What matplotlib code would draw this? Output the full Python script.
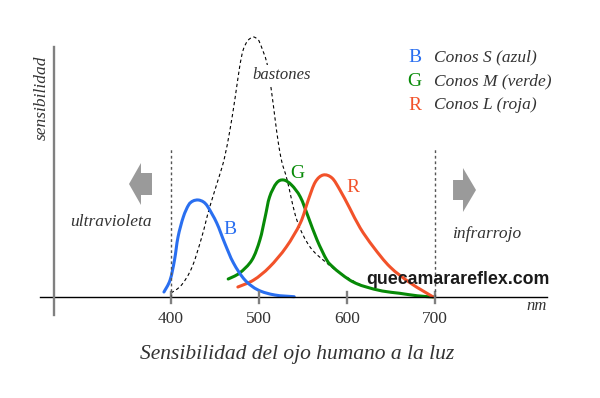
# espectro de sensibilidad del ojo humano: conos S, M, L y bastones
import numpy as np
import matplotlib.pyplot as plt
from matplotlib.patches import Polygon, PathPatch
from matplotlib.path import Path

# curva de los conos S (azul)
nm_b = [392, 399, 404, 408, 414, 420, 425, 431, 437, 442, 452, 461, 471, 484, 499, 518, 540]
s_b = [5, 17, 37, 60, 80, 92, 96, 97, 95, 90, 74, 54, 34, 17, 7, 2, 0.3]

# curva de los conos M (verde)
nm_g = [465, 478, 492, 501, 507, 512, 520, 528, 537, 547, 556, 566, 577, 584, 592, 603,
        612, 622, 640, 660, 680, 698]
s_g = [18, 24, 37, 57, 80, 100, 114, 117, 112, 100, 80, 57, 37, 30, 24, 17,
       13, 10, 6, 3.7, 1.2, 0]

# curva de los conos L (roja)
nm_r = [476, 494, 512, 531, 547, 556, 564, 573, 583, 592, 603, 615, 630, 649, 672, 698]
s_r = [10, 17, 30, 50, 74, 97, 115, 122, 119, 107, 89, 69, 50, 30, 14, 0]

# bastones (discontinua)
nm_rod = [400, 412, 424, 435, 444, 456, 461, 467, 473, 478, 482, 487, 493, 498, 501, 509,
          514, 518, 522, 526, 532, 543, 558, 577, 592, 622, 660, 698]
s_rod = [4, 12, 30, 60, 90, 124, 140, 167, 200, 230, 247, 256, 260, 258, 254, 234,
         207, 180, 154, 135, 117, 77, 50, 34, 24, 10, 3.5, 0]

ticks = [400, 500, 600, 700]

c_b = '#2a6ff0'
c_g = '#078a07'
c_r = '#f2522a'
gris = '#9a9a9a'
txt = '#333333'
serif = 'Liberation Serif'


def curva(x, y):
    # trazo suave (bezier) que pasa por los puntos leidos
    p = np.column_stack([x, y]).astype(float)
    verts = [p[0]]
    codes = [Path.MOVETO]
    for i in range(len(p) - 1):
        p0 = p[max(i - 1, 0)]
        p3 = p[min(i + 2, len(p) - 1)]
        c1 = p[i] + (p[i + 1] - p0) / 6
        c2 = p[i + 1] - (p3 - p[i]) / 6
        verts += [c1, c2, p[i + 1]]
        codes += [Path.CURVE4] * 3
    return Path(verts, codes)


fig = plt.figure(figsize=(6, 3.98), dpi=100)
ax = fig.add_axes([0, 0, 1, 1])
ax.set_xlim(205.7, 887.5)
ax.set_ylim(-101, 297)
ax.axis('off')

# ejes
ax.plot([251, 827], [0, 0], color='black', lw=1)
ax.plot([267, 267], [-18, 250], color='#808080', lw=1.7)
for t in ticks:
    ax.plot([t, t], [-6, 5], color='#808080', lw=1.7)
    ax.text(t, -22, str(t), ha='center', va='center', fontsize=12.5,
            family=serif, color=txt)

# limites del visible
for x in [400, 700]:
    ax.plot([x, x], [0, 149], color='#555555', lw=1, ls=(0, (2, 2)))

# curvas
ax.add_patch(PathPatch(curva(nm_rod, s_rod), fill=False, ec='black', lw=0.8,
                       ls=(0, (3, 2.5))))
ax.text(526, 222, 'bastones', ha='center', va='center', fontsize=12,
        family=serif, style='italic', color=txt,
        bbox=dict(fc='white', ec='none', pad=1.5))
for xs, ys, c in [(nm_g, s_g, c_g), (nm_r, s_r, c_r), (nm_b, s_b, c_b)]:
    ax.add_patch(PathPatch(curva(xs, ys), fill=False, ec=c, lw=2.2, capstyle='round'))

ax.text(467, 67, 'B', color=c_b, fontsize=14, family=serif, ha='center', va='center')
ax.text(544, 123, 'G', color=c_g, fontsize=14, family=serif, ha='center', va='center')
ax.text(607, 109, 'R', color=c_r, fontsize=14, family=serif, ha='center', va='center')

# flechas
ax.add_patch(Polygon([(352.3, 113), (365.9, 134), (365.9, 124), (378.4, 124),
                      (378.4, 102), (365.9, 102), (365.9, 92)],
                     closed=True, fc=gris, ec='none'))
ax.add_patch(Polygon([(746.6, 107), (731.8, 129), (731.8, 117), (720.5, 117),
                      (720.5, 97), (731.8, 97), (731.8, 85)],
                     closed=True, fc=gris, ec='none'))

ax.text(332, 75, 'ultravioleta', ha='center', va='center', fontsize=12.5,
        family=serif, style='italic', color=txt)
ax.text(759, 63, 'infrarrojo', ha='center', va='center', fontsize=12.5,
        family=serif, style='italic', color=txt)
ax.text(253, 199, 'sensibilidad', ha='center', va='center', rotation=90,
        fontsize=12.5, family=serif, style='italic', color=txt)
ax.text(816, -9, 'nm', ha='center', va='center', fontsize=12,
        family=serif, style='italic', color=txt)

# leyenda
ley = [('B', 'Conos S (azul)', c_b), ('G', 'Conos M (verde)', c_g),
       ('R', 'Conos L (roja)', c_r)]
for i, (l, s, c) in enumerate(ley):
    y = 240 - i * 24
    ax.text(677, y, l, color=c, fontsize=14, family=serif, ha='center', va='center')
    ax.text(699, y, s, color=txt, fontsize=12.5, family=serif, style='italic',
            ha='left', va='center')

ax.text(726, 17, 'quecamarareflex.com', ha='center', va='center', fontsize=12.8,
        fontweight='bold', family='Liberation Sans', color='#1a1a1a')

ax.text(543, -57, 'Sensibilidad del ojo humano a la luz', ha='center', va='center',
        fontsize=15.5, family=serif, style='italic', color=txt)

fig.savefig('out.png', dpi=100)
